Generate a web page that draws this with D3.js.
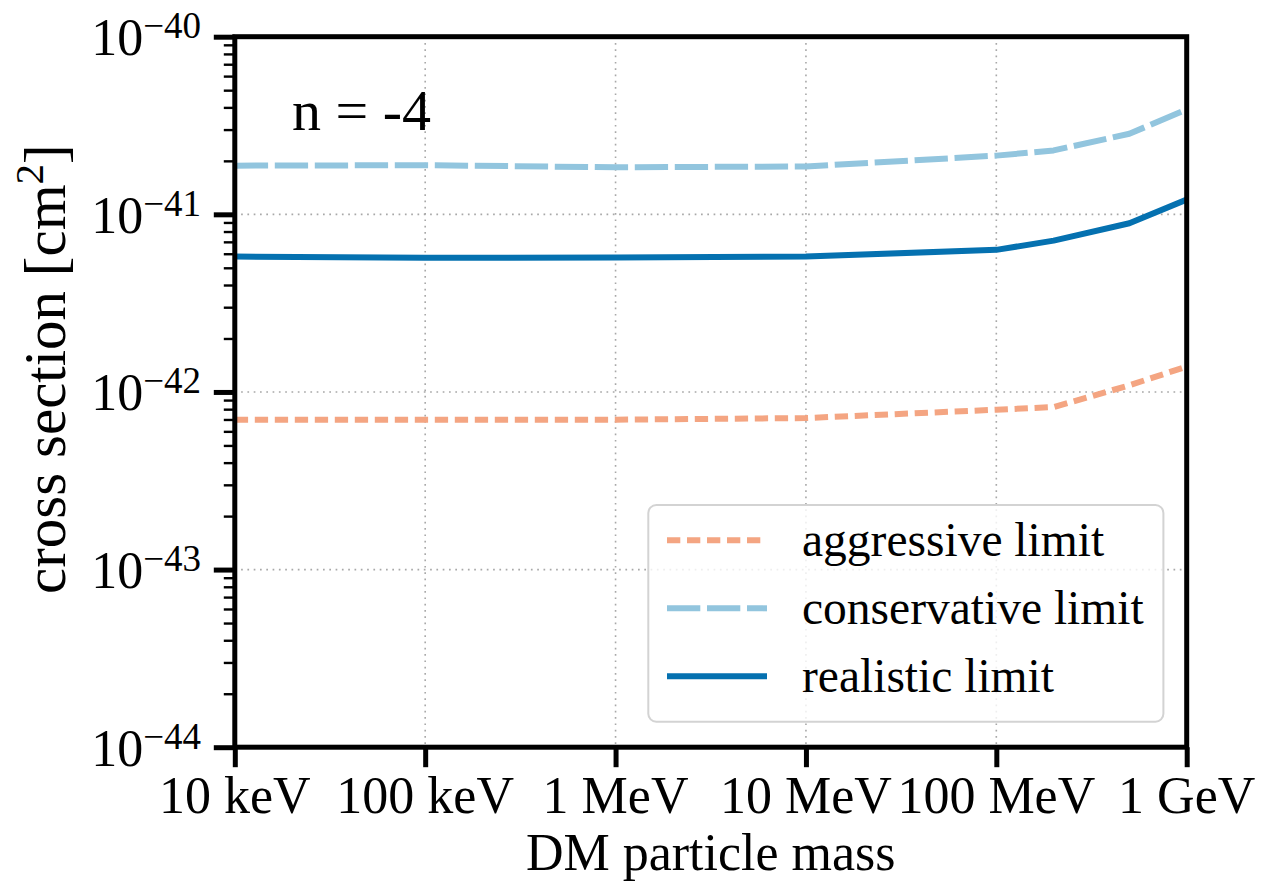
<!DOCTYPE html>
<html>
<head>
<meta charset="utf-8">
<script src="https://cdn.jsdelivr.net/npm/d3@7"></script>
<style>
  html, body { margin: 0; padding: 0; background: #fff; }
  svg { display: block; }
  text { font-family: "Liberation Serif", "Times New Roman", serif; fill: #000; }
</style>
</head>
<body>
<svg id="chart" width="1261" height="884"></svg>
<script>
// DM mass grid (eV) and the three cross-section limits (cm^2)
const massesEV = [1e4, 1e5, 1e6, 1e7, 1e8, 2e8, 5e8, 1e9];
const aggressiveLimit   = [6.97e-43, 6.97e-43, 6.98e-43, 7.13e-43, 7.94e-43, 8.22e-43, 1.09e-42, 1.39e-42];
const conservativeLimit = [1.88e-41, 1.89e-41, 1.84e-41, 1.86e-41, 2.14e-41, 2.29e-41, 2.84e-41, 3.90e-41];
const realisticLimit    = [5.78e-42, 5.69e-42, 5.72e-42, 5.78e-42, 6.31e-42, 7.11e-42, 8.91e-42, 1.21e-41];

const xTickValues = [1e4, 1e5, 1e6, 1e7, 1e8, 1e9];
const xTickLabels = ["10 keV", "100 keV", "1 MeV", "10 MeV", "100 MeV", "1 GeV"];
const yTickExponents = [-40, -41, -42, -43, -44];

const seriesNames = ["aggressive limit", "conservative limit", "realistic limit"];
const seriesColors = ["#f4a582", "#92c5de", "#0571b0"];
const seriesDash = ["13.3,6.7", "33.3,6.7", null];
const seriesValues = [aggressiveLimit, conservativeLimit, realisticLimit];

const svg = d3.select("#chart");
const plotL = 234.8, plotR = 1186.7, plotT = 36.7, plotB = 747.2;

const x = d3.scaleLog().domain([1e4, 1e9]).range([plotL, plotR]);
const y = d3.scaleLog().domain([1e-44, 1e-40]).range([plotB, plotT]);

// grid
const grid = svg.append("g");
grid.selectAll("line.gx").data(xTickValues).join("line")
  .attr("x1", d => x(d)).attr("x2", d => x(d))
  .attr("y1", plotT).attr("y2", plotB)
  .attr("stroke", "#a8a8a8").attr("stroke-width", 1.6).attr("stroke-dasharray", "1.7,4.6");
const yMajors = yTickExponents.map(e => Math.pow(10, e));
grid.selectAll("line.gy").data(yMajors).join("line")
  .attr("x1", plotL).attr("x2", plotR)
  .attr("y1", d => y(d)).attr("y2", d => y(d))
  .attr("stroke", "#a8a8a8").attr("stroke-width", 1.6).attr("stroke-dasharray", "1.7,4.6");

// data lines
const line = d3.line().x(d => x(d[0])).y(d => y(d[1]));
svg.append("defs").append("clipPath").attr("id", "plotClip")
  .append("rect").attr("x", plotL).attr("y", plotT).attr("width", plotR - plotL).attr("height", plotB - plotT);
const lines = svg.append("g").attr("clip-path", "url(#plotClip)");
seriesValues.forEach((vals, i) => {
  lines.append("path")
    .datum(massesEV.map((m, j) => [m, vals[j]]))
    .attr("d", line)
    .attr("fill", "none")
    .attr("stroke", seriesColors[i])
    .attr("stroke-width", 6)
    .attr("stroke-linejoin", "round")
    .attr("stroke-dasharray", seriesDash[i]);
});

// axes: major and minor ticks
const xAxis = svg.append("g").attr("transform", `translate(0,${plotB})`)
  .call(d3.axisBottom(x).tickValues(xTickValues).tickSize(20).tickFormat(""));
xAxis.select(".domain").remove();
xAxis.selectAll(".tick line").attr("stroke", "#000").attr("stroke-width", 5);

const yAxis = svg.append("g").attr("transform", `translate(${plotL},0)`)
  .call(d3.axisLeft(y).tickValues(yMajors).tickSize(21).tickFormat(""));
yAxis.select(".domain").remove();
yAxis.selectAll(".tick line").attr("stroke", "#000").attr("stroke-width", 5);

const yMinors = [];
for (let e = -44; e < -40; e++) for (let k = 2; k <= 9; k++) yMinors.push(k * Math.pow(10, e));
const yMinor = svg.append("g").attr("transform", `translate(${plotL},0)`)
  .call(d3.axisLeft(y).tickValues(yMinors).tickSize(11).tickFormat(""));
yMinor.select(".domain").remove();
yMinor.selectAll(".tick line").attr("stroke", "#000").attr("stroke-width", 2.4);

// spines
svg.append("rect")
  .attr("x", plotL).attr("y", plotT).attr("width", plotR - plotL).attr("height", plotB - plotT)
  .attr("fill", "none").attr("stroke", "#000").attr("stroke-width", 5);

// tick labels
svg.selectAll("text.xt").data(xTickValues).join("text")
  .attr("x", d => x(d)).attr("y", 813)
  .attr("text-anchor", "middle").attr("font-size", 52)
  .text((d, i) => xTickLabels[i]);

const yt = svg.selectAll("text.yt").data(yTickExponents).join("text")
  .attr("x", 201).attr("y", d => y(Math.pow(10, d)) + 18.5)
  .attr("text-anchor", "end").attr("font-size", 52);
yt.append("tspan").text("10");
yt.append("tspan").attr("dy", -17).attr("font-size", 37).text(d => "\u2212" + Math.abs(d));

// axis titles
svg.append("text").attr("x", (plotL + plotR) / 2).attr("y", 870)
  .attr("text-anchor", "middle").attr("font-size", 52).text("DM particle mass");

const yl = svg.append("text")
  .attr("transform", "translate(65,594) rotate(-90)")
  .attr("text-anchor", "start").attr("font-size", 59);
yl.append("tspan").text("cross section [cm");
yl.append("tspan").attr("dy", -22).attr("font-size", 41).text("2");
yl.append("tspan").attr("dy", 22).text("]");

// annotation
svg.append("text").attr("x", 292).attr("y", 129.5).attr("font-size", 58).text("n = -4");

// legend
const lg = svg.append("g");
lg.append("rect")
  .attr("x", 648.3).attr("y", 505).attr("width", 1163.4 - 648.3).attr("height", 721.7 - 505)
  .attr("rx", 8).attr("ry", 8)
  .attr("fill", "#fff").attr("fill-opacity", 0.8)
  .attr("stroke", "#d3d3d3").attr("stroke-width", 2);
const rowY = [540.3, 608.3, 676.3];
seriesNames.forEach((name, i) => {
  lg.append("line")
    .attr("x1", 667).attr("x2", 767).attr("y1", rowY[i]).attr("y2", rowY[i])
    .attr("stroke", seriesColors[i]).attr("stroke-width", 6)
    .attr("stroke-dasharray", seriesDash[i]);
  lg.append("text").attr("x", 802).attr("y", rowY[i] + 16)
    .attr("font-size", 47.5).text(name);
});
</script>
</body>
</html>
